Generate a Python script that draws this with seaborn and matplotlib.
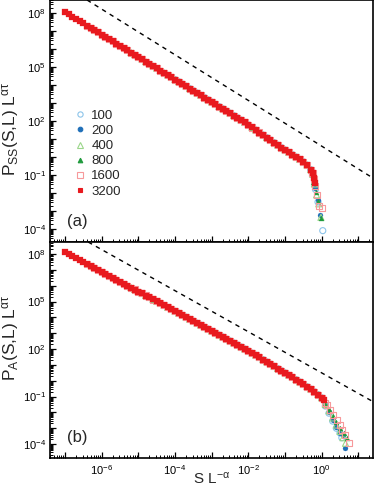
import numpy as np
import pandas as pd
import matplotlib
matplotlib.use("Agg")
import matplotlib.pyplot as plt
import seaborn as sns
from matplotlib.ticker import LogLocator, FuncFormatter, NullFormatter
from matplotlib.lines import Line2D

# ---------------- data (log10 values) ----------------
sizes = [100, 200, 400, 800, 1600, 3200]
size_labels = ["100", "200", "400", "800", "1600", "3200"]
start_lx = [-4.0, -4.6, -5.2, -5.8, -6.4, -7.0]

body_lx = [-7.0, -6.9, -6.8, -6.7, -6.6, -6.5, -6.4, -6.3, -6.2, -6.1,
           -6.0, -5.9, -5.8, -5.7, -5.6, -5.5, -5.4, -5.3, -5.2, -5.1,
           -5.0, -4.9, -4.8, -4.7, -4.6, -4.5, -4.4, -4.3, -4.2, -4.1,
           -4.0, -3.9, -3.8, -3.7, -3.6, -3.5, -3.4, -3.3, -3.2, -3.1,
           -3.0, -2.9, -2.8, -2.7, -2.6, -2.5, -2.4, -2.3, -2.2, -2.1,
           -2.0, -1.9, -1.8, -1.7, -1.6, -1.5, -1.4, -1.3, -1.2, -1.1,
           -1.0, -0.9, -0.8, -0.7, -0.6, -0.5, -0.4, -0.3, -0.2, -0.1, 0.0]

body_ly_a = [8.05, 7.93, 7.80, 7.68, 7.55, 7.43, 7.30, 7.18, 7.05, 6.93,
             6.80, 6.68, 6.55, 6.43, 6.30, 6.18, 6.05, 5.93, 5.80, 5.68,
             5.55, 5.43, 5.30, 5.18, 5.05, 4.93, 4.80, 4.68, 4.55, 4.43,
             4.30, 4.18, 4.05, 3.93, 3.80, 3.68, 3.55, 3.43, 3.30, 3.18,
             3.05, 2.93, 2.80, 2.68, 2.55, 2.43, 2.30, 2.18, 2.05, 1.92,
             1.78, 1.64, 1.50, 1.36, 1.22, 1.08, 0.94, 0.80, 0.66, 0.52,
             0.39, 0.26, 0.13, 0.00, -0.13, -0.27, -0.45, -0.70]

body_ly_b = [8.13, 8.01, 7.88, 7.76, 7.63, 7.51, 7.38, 7.26, 7.13, 7.01,
             6.88, 6.76, 6.63, 6.51, 6.38, 6.26, 6.13, 6.01, 5.88, 5.76,
             5.63, 5.51, 5.38, 5.26, 5.13, 5.01, 4.88, 4.76, 4.63, 4.51,
             4.38, 4.26, 4.13, 4.01, 3.88, 3.76, 3.63, 3.51, 3.38, 3.26,
             3.13, 3.01, 2.88, 2.76, 2.63, 2.51, 2.38, 2.26, 2.13, 2.00,
             1.87, 1.74, 1.61, 1.47, 1.33, 1.19, 1.05, 0.91, 0.77, 0.63,
             0.49, 0.35, 0.21, 0.07, -0.08, -0.23, -0.38, -0.53, -0.70, -0.88, -1.08]

# cut-off tails, panel (a)
tail_a_lx = {100: [-0.25, -0.17, -0.10, 0.03],
             200: [-0.25, -0.18, -0.11, -0.04],
             400: [-0.25, -0.20, -0.14, -0.08, -0.02],
             800: [-0.25, -0.23, -0.16, -0.10, -0.03],
             1600: [-0.25, -0.21, -0.18, -0.13, -0.06, 0.00],
             3200: [-0.25, -0.21, -0.18]}
tail_a_ly = {100: [-1.00, -1.80, -2.50, -4.09],
             200: [-0.95, -1.71, -2.40, -3.20],
             400: [-0.95, -1.50, -2.10, -2.60, -3.35],
             800: [-0.90, -1.37, -1.93, -2.43, -3.41],
             1600: [-0.90, -1.20, -1.62, -2.11, -2.72, -2.82],
             3200: [-0.90, -1.15, -1.42]}

# cut-off tails, panel (b)
tail_b_lx = {100: [0.10, 0.20, 0.30, 0.40, 0.50, 0.55],
             200: [0.10, 0.20, 0.30, 0.40, 0.50, 0.59, 0.64],
             400: [0.10, 0.20, 0.30, 0.40, 0.50, 0.58, 0.65],
             800: [0.10, 0.20, 0.30, 0.40, 0.50, 0.60, 0.68],
             1600: [0.10, 0.14, 0.23, 0.32, 0.41, 0.50, 0.55, 0.64, 0.74],
             3200: [0.05]}
tail_b_ly = {100: [-1.60, -2.05, -2.55, -3.00, -3.30, -3.60],
             200: [-1.55, -2.00, -2.45, -2.90, -3.30, -3.43, -4.27],
             400: [-1.50, -1.90, -2.35, -2.80, -3.20, -3.60, -3.95],
             800: [-1.45, -1.80, -2.20, -2.60, -3.00, -3.30, -3.64],
             1600: [-1.40, -1.54, -1.85, -2.17, -2.49, -2.80, -3.12, -3.43, -3.96],
             3200: [-1.20]}

# guide lines (log10 endpoints)
dash_a_lx = [-6.40, 1.40]
dash_a_ly = [8.72, -1.17]
dash_b_lx = [-6.37, 1.40]
dash_b_ly = [8.76, -1.32]

# ---------------- style ----------------
sns.set_style("white")
plt.rcParams["font.family"] = ["Liberation Sans", "DejaVu Sans"]
plt.rcParams["mathtext.fontset"] = "custom"
plt.rcParams["mathtext.rm"] = "Liberation Sans"
plt.rcParams["mathtext.it"] = "Liberation Sans"
plt.rcParams["mathtext.bf"] = "Liberation Sans:bold"

markers = {100: "o", 200: "o", 400: "^", 800: "^", 1600: "s", 3200: "s"}
filled = {100: False, 200: True, 400: False, 800: True, 1600: False, 3200: True}
colors = {100: "#8cc4ea", 200: "#1f6fb8", 400: "#9bd68a", 800: "#1f9a3c",
          1600: "#f7999b", 3200: "#e8191e"}

fig = plt.figure(figsize=(3.74, 4.92), dpi=100)
W, H = 374.0, 492.0
ax_a = fig.add_axes([50 / W, 1 - 242 / H, 323 / W, 242 / H])
ax_b = fig.add_axes([50 / W, 1 - 458 / H, 323 / W, 216 / H])


def draw_panel(ax, body_ly, tail_lx, tail_ly):
    for L, s0 in zip(sizes, start_lx):
        keep = [(x, y) for x, y in zip(body_lx, body_ly)
                if x >= s0 - 1e-9 and x < tail_lx[L][0] - 1e-9]
        lx = [k[0] for k in keep] + tail_lx[L]
        ly = [k[1] for k in keep] + tail_ly[L]
        df = pd.DataFrame({"x": np.power(10.0, lx), "y": np.power(10.0, ly)})
        c = colors[L]
        if filled[L]:
            size = 14 if markers[L] == "s" else 13
            sns.scatterplot(data=df, x="x", y="y", ax=ax, marker=markers[L], s=size,
                            color=c, edgecolor=c, linewidth=0.2, zorder=3, legend=False)
        else:
            sns.scatterplot(data=df, x="x", y="y", ax=ax, marker=markers[L], s=19,
                            color=c, facecolor="none", edgecolor=c, linewidth=0.8,
                            zorder=3, legend=False)


draw_panel(ax_a, body_ly_a, tail_a_lx, tail_a_ly)
draw_panel(ax_b, body_ly_b, tail_b_lx, tail_b_ly)

for ax, dlx, dly in [(ax_a, dash_a_lx, dash_a_ly), (ax_b, dash_b_lx, dash_b_ly)]:
    ax.plot(np.power(10.0, dlx), np.power(10.0, dly), color="black", lw=1.0,
            linestyle=(0, (3.2, 3.2)), zorder=2)

ax_a.set_ylim(10 ** -4.72, 10 ** 8.72)
ax_b.set_ylim(10 ** -4.88, 10 ** 8.76)


def xfmt(v, pos):
    e = int(round(np.log10(v)))
    return r"$\mathregular{10^{%d}}$" % e if e % 2 == 0 else ""


def yfmt(v, pos):
    e = int(round(np.log10(v)))
    return r"$\mathregular{10^{%d}}$" % e if (e - 8) % 3 == 0 else ""


for ax in (ax_a, ax_b):
    ax.set_xscale("log")
    ax.set_yscale("log")
    ax.set_xlim(10 ** -7.41, 10 ** 1.40)
    ax.xaxis.set_major_locator(LogLocator(base=10, numticks=30))
    ax.xaxis.set_minor_locator(LogLocator(base=10, subs=np.arange(2, 10), numticks=30))
    ax.yaxis.set_major_locator(LogLocator(base=10, numticks=30))
    ax.yaxis.set_minor_locator(LogLocator(base=10, subs=np.arange(2, 10), numticks=30))
    ax.xaxis.set_major_formatter(FuncFormatter(xfmt))
    ax.yaxis.set_major_formatter(FuncFormatter(yfmt))
    ax.xaxis.set_minor_formatter(NullFormatter())
    ax.yaxis.set_minor_formatter(NullFormatter())
    ax.tick_params(which="major", direction="in", length=4.5, width=0.9, labelsize=8,
                   pad=3, bottom=True, left=True, top=False, right=False, colors="black")
    ax.tick_params(which="minor", direction="in", length=2.2, width=0.7,
                   bottom=True, left=True, top=False, right=False, colors="black")
    for sp in ax.spines.values():
        sp.set_linewidth(1.2)
        sp.set_color("black")
    ax.set_facecolor("white")

ax_b.tick_params(axis="x", which="major", pad=4)
ax_a.tick_params(axis="x", labelbottom=False)
ax_a.set_xlabel("")
ax_b.set_xlabel(r"S L$^{\mathregular{-\alpha}}$", fontsize=11)
ax_b.xaxis.set_label_coords(0.5, -0.06)
ax_a.set_ylabel(r"P$_{\mathregular{SS}}$(S,L) L$^{\mathregular{\alpha\tau}}$", fontsize=12.5)
ax_b.set_ylabel(r"P$_{\mathregular{A}}$(S,L) L$^{\mathregular{\alpha\tau}}$", fontsize=12.5)
ax_a.yaxis.set_label_coords(-0.09, 0.47)
ax_b.yaxis.set_label_coords(-0.09, 0.556)

ax_a.text(0.053, 0.083, "(a)", transform=ax_a.transAxes, fontsize=12, va="center", ha="left")
ax_b.text(0.053, 0.093, "(b)", transform=ax_b.transAxes, fontsize=12, va="center", ha="left")

handles = []
for L, lab in zip(sizes, size_labels):
    c = colors[L]
    handles.append(Line2D([], [], linestyle="none", marker=markers[L],
                          markersize=3.3 if filled[L] else 3.8,
                          markerfacecolor=c if filled[L] else "none",
                          markeredgecolor=c, markeredgewidth=0.8, label=lab))
ax_a.legend(handles=handles, loc="upper left", bbox_to_anchor=(0.075, 0.547),
            frameon=False, fontsize=9.5, handlelength=0.8, handletextpad=0.5,
            labelspacing=0.22, borderpad=0, borderaxespad=0)

fig.savefig("out.png", dpi=100, facecolor="white")
